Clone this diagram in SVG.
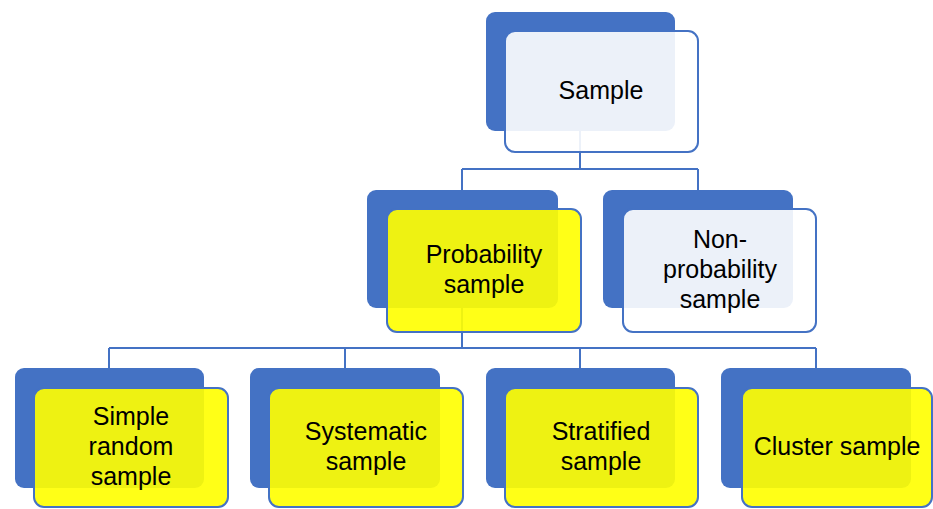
<svg xmlns="http://www.w3.org/2000/svg" width="933" height="509" viewBox="0 0 933 509">
<style>
.back{fill:#4472C4;}
.fy{fill:#FFFF00;fill-opacity:0.91;stroke:#4472C4;stroke-width:2;}
.fw{fill:#FFFFFF;fill-opacity:0.9;stroke:#4472C4;stroke-width:2;}
.conn{fill:none;stroke:#4472C4;stroke-width:2;}
text{font-family:"Liberation Sans",Arial,sans-serif;font-size:25px;fill:#000;text-anchor:middle;}
</style>
<rect width="933" height="509" fill="#FFFFFF"/>
<g id="connectors" class="conn">
<path d="M580,131 V169 M462,169 H698 M462,169 V190 M698,169 V190"/>
<path d="M462,308 V348 M109,348 H816 M109,348 V368 M345,348 V368 M580,348 V368 M816,348 V368"/>
</g>
<g id="sample">
<rect class="back" x="486" y="12" width="189" height="119" rx="9"/>
<rect class="fw" x="505" y="31" width="193" height="121" rx="10"/>
<text x="601" y="99">Sample</text>
</g>
<g id="probability">
<rect class="back" x="367" y="190" width="191" height="118" rx="9"/>
<rect class="fy" x="387" y="209" width="194" height="123" rx="10"/>
<text x="484" y="263">Probability</text>
<text x="484" y="293">sample</text>
</g>
<g id="nonprobability">
<rect class="back" x="603" y="190" width="190" height="118" rx="9"/>
<rect class="fw" x="623" y="209" width="193" height="123" rx="10"/>
<text x="720" y="248">Non-</text>
<text x="720" y="278">probability</text>
<text x="720" y="308">sample</text>
</g>
<g id="simple">
<rect class="back" x="15" y="368" width="189" height="120" rx="9"/>
<rect class="fy" x="34" y="388" width="194" height="119" rx="10"/>
<text x="131" y="425">Simple</text>
<text x="131" y="455">random</text>
<text x="131" y="485">sample</text>
</g>
<g id="systematic">
<rect class="back" x="250" y="368" width="190" height="120" rx="9"/>
<rect class="fy" x="269" y="388" width="194" height="119" rx="10"/>
<text x="366" y="440">Systematic</text>
<text x="366" y="470">sample</text>
</g>
<g id="stratified">
<rect class="back" x="486" y="368" width="189" height="120" rx="9"/>
<rect class="fy" x="505" y="388" width="193" height="119" rx="10"/>
<text x="601" y="440">Stratified</text>
<text x="601" y="470">sample</text>
</g>
<g id="cluster">
<rect class="back" x="721" y="368" width="190" height="120" rx="9"/>
<rect class="fy" x="742" y="388" width="190" height="119" rx="10"/>
<text x="837" y="455">Cluster sample</text>
</g>
</svg>
